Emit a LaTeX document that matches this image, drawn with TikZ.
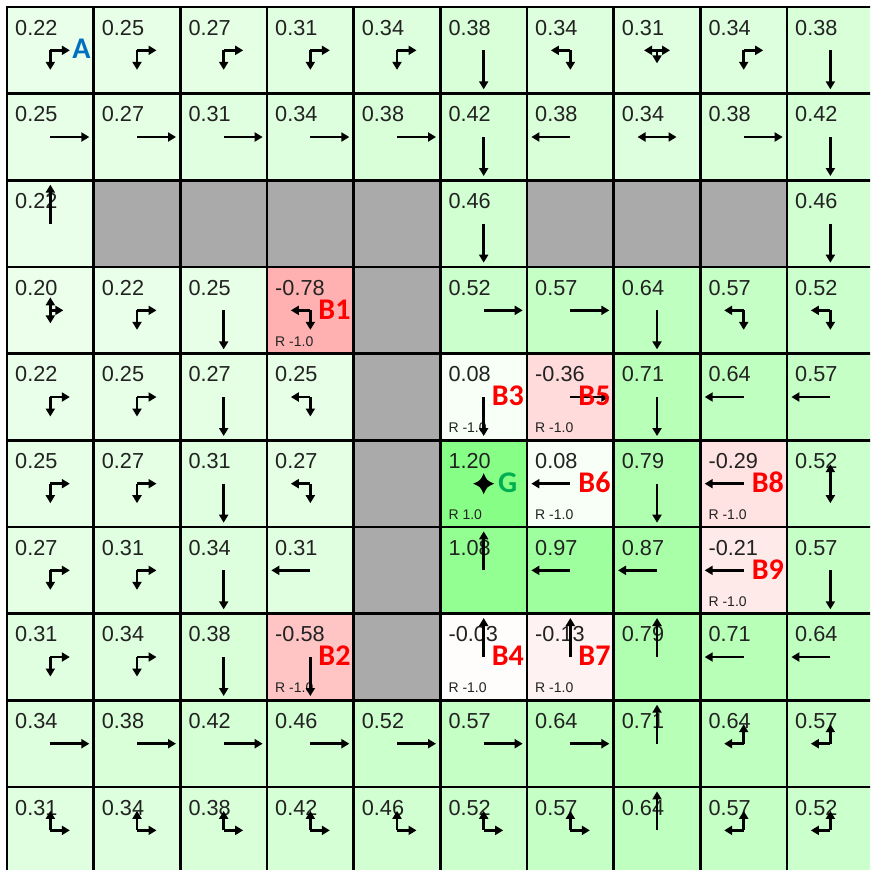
\documentclass[tikz,border=0pt]{standalone}
\usepackage{fontspec}
\setmainfont{Liberation Sans}
\newfontfamily\labfont{Carlito}
\usetikzlibrary{arrows.meta}
\definecolor{wallc}{RGB}{170,170,170}
\definecolor{labred}{RGB}{255,0,0}
\definecolor{labblue}{RGB}{0,112,192}
\definecolor{labgreen}{RGB}{0,176,80}
\definecolor{valtext}{RGB}{34,34,34}
\tikzset{
  pol/.style={line width=2.6pt, line cap=butt, -{Triangle[length=8pt,width=9pt]}, black},
  valtxt/.style={anchor=base west, inner sep=0pt, font=\fontsize{21.7}{24}\selectfont, text=valtext},
  rtxt/.style={anchor=base west, inner sep=0pt, font=\fontsize{14}{16}\selectfont, text=valtext},
  blab/.style={anchor=east, inner sep=0pt, font=\labfont\bfseries\fontsize{30}{32}\selectfont, text=labred},
  gridln/.style={line width=2.4pt, line cap=rect, black},
}
\newcommand\CS{86.67}
\newcommand\OX{7}
\begin{document}
\begin{tikzpicture}[x=1pt,y=-1pt]
\useasboundingbox (0,0) rectangle (870,870);
\clip (0,0) rectangle (870,870);
\fill[white] (0,0) rectangle (870,870);
% cell centres
\foreach \r in {0,...,9}{\foreach \c in {0,...,9}{
  \coordinate (c-\r-\c) at ({\OX+\CS*\c+\CS/2},{\OX+\CS*\r+\CS/2});
}}
% value cells
\foreach \r/\c/\v in {
 0/0/0.22,0/1/0.25,0/2/0.27,0/3/0.31,0/4/0.34,0/5/0.38,0/6/0.34,0/7/0.31,0/8/0.34,0/9/0.38,
 1/0/0.25,1/1/0.27,1/2/0.31,1/3/0.34,1/4/0.38,1/5/0.42,1/6/0.38,1/7/0.34,1/8/0.38,1/9/0.42,
 2/0/0.22,2/5/0.46,2/9/0.46,
 3/0/0.20,3/1/0.22,3/2/0.25,3/3/-0.78,3/5/0.52,3/6/0.57,3/7/0.64,3/8/0.57,3/9/0.52,
 4/0/0.22,4/1/0.25,4/2/0.27,4/3/0.25,4/5/0.08,4/6/-0.36,4/7/0.71,4/8/0.64,4/9/0.57,
 5/0/0.25,5/1/0.27,5/2/0.31,5/3/0.27,5/5/1.20,5/6/0.08,5/7/0.79,5/8/-0.29,5/9/0.52,
 6/0/0.27,6/1/0.31,6/2/0.34,6/3/0.31,6/5/1.08,6/6/0.97,6/7/0.87,6/8/-0.21,6/9/0.57,
 7/0/0.31,7/1/0.34,7/2/0.38,7/3/-0.58,7/5/-0.03,7/6/-0.13,7/7/0.79,7/8/0.71,7/9/0.64,
 8/0/0.34,8/1/0.38,8/2/0.42,8/3/0.46,8/4/0.52,8/5/0.57,8/6/0.64,8/7/0.71,8/8/0.64,8/9/0.57,
 9/0/0.31,9/1/0.34,9/2/0.38,9/3/0.42,9/4/0.46,9/5/0.52,9/6/0.57,9/7/0.64,9/8/0.57,9/9/0.52}{
  \pgfmathtruncatemacro\myR{(\v>0) ? 255.4-100*(\v) : 255}
  \pgfmathtruncatemacro\myG{(\v>0) ? 255 : 255.4+100*(\v)}
  \pgfmathtruncatemacro\myB{(\v>0) ? \myR : \myG}
  \definecolor{cellc}{RGB}{\myR,\myG,\myB}
  \fill[cellc] ({\OX+\CS*\c},{\OX+\CS*\r}) rectangle ++(\CS,\CS);
  \node[valtxt] (v-\r-\c) at ({\OX+\CS*\c+8},{\OX+\CS*\r+28}) {\v};
}
% walls
\foreach \r/\c in {2/1,2/2,2/3,2/4,2/6,2/7,2/8,3/4,4/4,5/4,6/4,7/4}{
  \fill[wallc] ({\OX+\CS*\c},{\OX+\CS*\r}) rectangle ++(\CS,\CS);
}
% grid
\foreach \i in {0,...,10}{
  \draw[gridln] ({\OX+\CS*\i},\OX) -- ({\OX+\CS*\i},{\OX+\CS*10});
  \draw[gridln] (\OX,{\OX+\CS*\i}) -- ({\OX+\CS*10},{\OX+\CS*\i});
}
% reward texts
\foreach \r/\c/\t in {3/3/-1.0,4/5/-1.0,4/6/-1.0,5/5/1.0,5/6/-1.0,5/8/-1.0,6/8/-1.0,7/3/-1.0,7/5/-1.0,7/6/-1.0}{
  \node[rtxt] (r-\r-\c) at ({\OX+\CS*\c+8},{\OX+\CS*\r+79}) {R \t};
}
% policy arrows: angle 0=right, 90=down, 180=left, 270=up
\foreach \r/\c/\a/\l in {
 0/0/0/19.5,0/0/90/19.5,0/1/0/19.5,0/1/90/19.5,0/2/0/19.5,0/2/90/19.5,0/3/0/19.5,0/3/90/19.5,0/4/0/19.5,0/4/90/19.5,
 0/5/90/39,0/6/180/19.5,0/6/90/19.5,0/7/180/13,0/7/0/13,0/7/90/13,0/8/0/19.5,0/8/90/19.5,0/9/90/39,
 1/0/0/39,1/1/0/39,1/2/0/39,1/3/0/39,1/4/0/39,1/5/90/39,1/6/180/39,1/7/180/19.5,1/7/0/19.5,1/8/0/39,1/9/90/39,
 2/0/270/39,2/5/90/39,2/9/90/39,
 3/0/270/13,3/0/90/13,3/0/0/13,3/1/0/19.5,3/1/90/19.5,3/2/90/39,3/3/180/19.5,3/3/90/19.5,
 3/5/0/39,3/6/0/39,3/7/90/39,3/8/180/19.5,3/8/90/19.5,3/9/180/19.5,3/9/90/19.5,
 4/0/0/19.5,4/0/90/19.5,4/1/0/19.5,4/1/90/19.5,4/2/90/39,4/3/180/19.5,4/3/90/19.5,
 4/5/90/39,4/6/0/39,4/7/90/39,4/8/180/39,4/9/180/39,
 5/0/0/19.5,5/0/90/19.5,5/1/0/19.5,5/1/90/19.5,5/2/90/39,5/3/180/19.5,5/3/90/19.5,
 5/6/180/39,5/7/90/39,5/8/180/39,5/9/270/19.5,5/9/90/19.5,
 6/0/0/19.5,6/0/90/19.5,6/1/0/19.5,6/1/90/19.5,6/2/90/39,6/3/180/39,
 6/5/270/39,6/6/180/39,6/7/180/39,6/8/180/39,6/9/90/39,
 7/0/0/19.5,7/0/90/19.5,7/1/0/19.5,7/1/90/19.5,7/2/90/39,7/3/90/39,
 7/5/270/39,7/6/270/39,7/7/270/39,7/8/180/39,7/9/180/39,
 8/0/0/39,8/1/0/39,8/2/0/39,8/3/0/39,8/4/0/39,8/5/0/39,8/6/0/39,8/7/270/39,
 8/8/180/19.5,8/8/270/19.5,8/9/180/19.5,8/9/270/19.5,
 9/0/270/19.5,9/0/0/19.5,9/1/270/19.5,9/1/0/19.5,9/2/270/19.5,9/2/0/19.5,9/3/270/19.5,9/3/0/19.5,
 9/4/270/19.5,9/4/0/19.5,9/5/270/19.5,9/5/0/19.5,9/6/270/19.5,9/6/0/19.5,9/7/270/39,
 9/8/180/19.5,9/8/270/19.5,9/9/180/19.5,9/9/270/19.5}{
  \draw[pol] (c-\r-\c) -- ++({cos(\a)*\l},{sin(\a)*\l});
}
% goal marker
\begin{scope}[shift={(c-5-5)}]
  \fill[black] (0,-10.5) .. controls (3.2,-3.2) .. (10.5,0) .. controls (3.2,3.2) .. (0,10.5)
    .. controls (-3.2,3.2) .. (-10.5,0) .. controls (-3.2,-3.2) .. (0,-10.5) -- cycle;
\end{scope}
% labels
\node[blab] (B1) at ({\OX+\CS*4-3},{\OX+\CS*3.5-1}) {B1};
\node[blab] (B2) at ({\OX+\CS*4-3},{\OX+\CS*7.5-1}) {B2};
\node[blab] (B3) at ({\OX+\CS*6-3},{\OX+\CS*4.5-1}) {B3};
\node[blab] (B4) at ({\OX+\CS*6-3},{\OX+\CS*7.5-1}) {B4};
\node[blab] (B5) at ({\OX+\CS*7-3},{\OX+\CS*4.5-1}) {B5};
\node[blab] (B6) at ({\OX+\CS*7-3},{\OX+\CS*5.5-1}) {B6};
\node[blab] (B7) at ({\OX+\CS*7-3},{\OX+\CS*7.5-1}) {B7};
\node[blab] (B8) at ({\OX+\CS*9-3},{\OX+\CS*5.5-1}) {B8};
\node[blab] (B9) at ({\OX+\CS*9-3},{\OX+\CS*6.5-1}) {B9};
\node[blab, text=labblue] (A) at ({\OX+\CS*1-3},{\OX+\CS*0.5-2}) {A};
\node[blab, anchor=west, text=labgreen] (G) at (498,482.5) {G};
\end{tikzpicture}
\end{document}
